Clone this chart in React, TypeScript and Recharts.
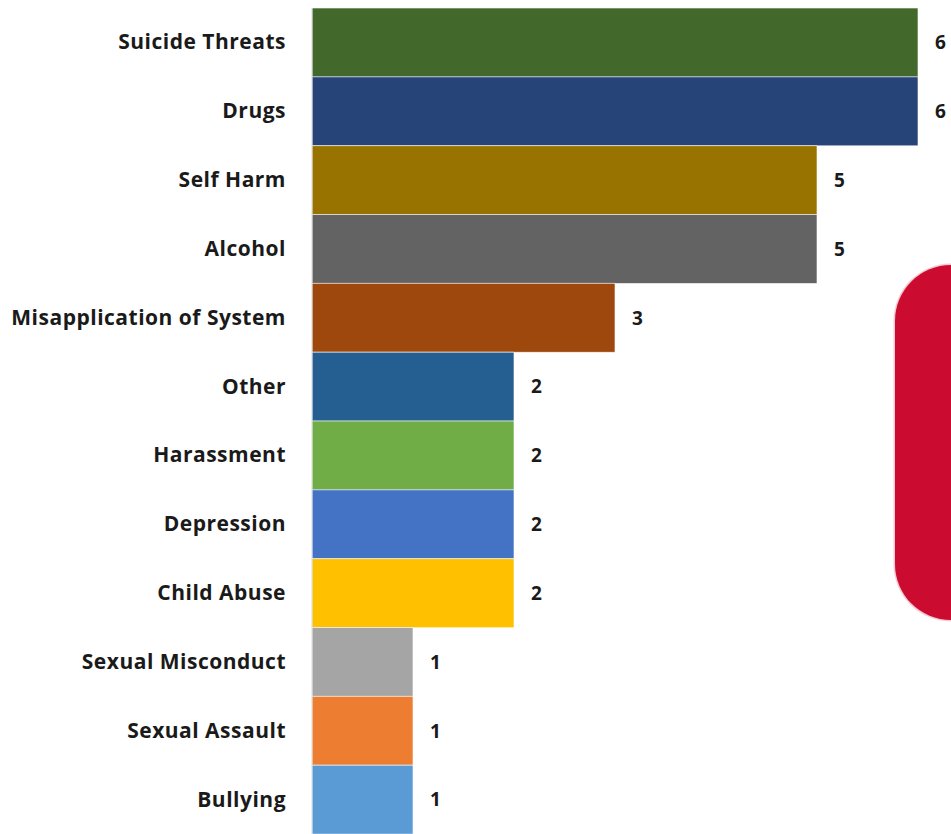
import { BarChart, Bar, XAxis, YAxis, Cell, LabelList } from 'recharts';

// categories top to bottom
const categories: string[] = [
  'Suicide Threats',
  'Drugs',
  'Self Harm',
  'Alcohol',
  'Misapplication of System',
  'Other',
  'Harassment',
  'Depression',
  'Child Abuse',
  'Sexual Misconduct',
  'Sexual Assault',
  'Bullying',
];
const counts: number[] = [6, 6, 5, 5, 3, 2, 2, 2, 2, 1, 1, 1];
const barColors: string[] = [
  '#43682B',
  '#264478',
  '#997300',
  '#636363',
  '#9E480E',
  '#255E91',
  '#70AD47',
  '#4472C4',
  '#FFC000',
  '#A5A5A5',
  '#ED7D31',
  '#5B9BD5',
];

interface Row {
  name: string;
  value: number;
}

const data: Row[] = categories.map((name, i) => ({ name, value: counts[i] }));

const FONT = '"Open Sans", Lato, sans-serif';

const CategoryTick = (props: any) => {
  const { x, y, payload } = props;
  return (
    <text
      x={x - 18}
      y={y}
      dy={7}
      textAnchor="end"
      fill="#1a1a1a"
      fontFamily={FONT}
      fontWeight={700}
      fontSize={21}
      letterSpacing={0.5}
    >
      {payload.value}
    </text>
  );
};

export default function App() {
  return (
    <div style={{ position: 'absolute', left: 0, top: 0, width: 951, height: 834, overflow: 'hidden', background: '#fff' }}>
      <BarChart
        width={951}
        height={834}
        data={data}
        layout="vertical"
        margin={{ top: 8, right: 33, bottom: 0, left: 0 }}
        barCategoryGap={0}
      >
        <XAxis type="number" domain={[0, 6]} hide />
        <YAxis
          type="category"
          dataKey="name"
          width={312}
          tickLine={false}
          axisLine={{ stroke: '#d9d9d9', strokeWidth: 1 }}
          tick={<CategoryTick />}
          interval={0}
        />
        <Bar dataKey="value" isAnimationActive={false} stroke="#ffffff" strokeOpacity={0.6} strokeWidth={1}>
          {data.map((row, i) => (
            <Cell key={row.name} fill={barColors[i]} />
          ))}
          <LabelList
            dataKey="value"
            position="right"
            offset={17}
            fill="#1a1a1a"
            fontFamily={FONT}
            fontWeight={700}
            fontSize={19}
          />
        </Bar>
      </BarChart>
      <div
        style={{
          position: 'absolute',
          left: 895,
          top: 265,
          width: 120,
          height: 355,
          background: '#CB0C30',
          borderRadius: 56,
          boxShadow: '0 0 0 1.5px #f7c9d2',
        }}
      />
    </div>
  );
}
